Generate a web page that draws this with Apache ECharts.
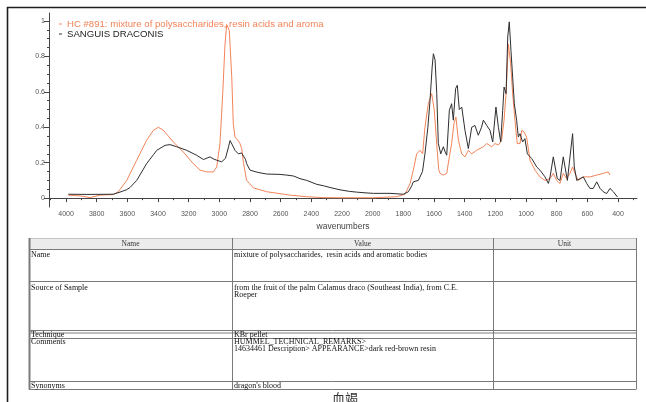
<!DOCTYPE html>
<html>
<head>
<meta charset="utf-8">
<script src="https://cdn.jsdelivr.net/npm/echarts@6/dist/echarts.min.js"></script>
<style>
  html, body { margin: 0; padding: 0; background: #ffffff; }
  #chart { width: 646px; height: 402px; }
</style>
</head>
<body>
<div id="chart"></div>
<script>
// ---- spectrum data (wavenumber in cm-1, absorbance) ----
const refName = 'HC #891: mixture of polysaccharides, resin acids and aroma';
const refColor = '#f3845a';
const refWn = [3985, 3900, 3843, 3778, 3691, 3659, 3604, 3539, 3474, 3430, 3398, 3365, 3300, 3235, 3170, 3126, 3082, 3039, 3017, 2996, 2978, 2963, 2952, 2935, 2919, 2909, 2898, 2880, 2865, 2854, 2843, 2822, 2804, 2778, 2691, 2539, 2430, 2322, 2213, 2000, 1843, 1789, 1756, 1735, 1713, 1691, 1674, 1659, 1637, 1615, 1598, 1582, 1569, 1561, 1539, 1517, 1500, 1485, 1470, 1457, 1441, 1419, 1398, 1376, 1354, 1322, 1278, 1256, 1224, 1202, 1180, 1159, 1143, 1130, 1115, 1100, 1087, 1072, 1057, 1039, 1028, 1013, 996, 974, 941, 909, 876, 843, 822, 800, 778, 757, 735, 713, 696, 680, 659, 626, 583, 539, 496, 463, 452];
const refAbs = [0.017, 0.012, 0.003, 0.017, 0.02, 0.036, 0.10, 0.214, 0.327, 0.383, 0.40, 0.383, 0.317, 0.26, 0.195, 0.158, 0.148, 0.148, 0.176, 0.308, 0.59, 0.87, 0.98, 0.946, 0.683, 0.42, 0.345, 0.327, 0.308, 0.28, 0.20, 0.10, 0.083, 0.058, 0.036, 0.017, 0.008, 0.003, 0.002, 0.002, 0.008, 0.022, 0.083, 0.158, 0.25, 0.27, 0.25, 0.40, 0.533, 0.59, 0.496, 0.30, 0.16, 0.14, 0.13, 0.14, 0.233, 0.308, 0.42, 0.458, 0.327, 0.25, 0.233, 0.27, 0.25, 0.27, 0.29, 0.308, 0.29, 0.308, 0.30, 0.327, 0.44, 0.59, 0.87, 0.76, 0.59, 0.44, 0.308, 0.308, 0.383, 0.374, 0.345, 0.214, 0.158, 0.12, 0.10, 0.11, 0.14, 0.10, 0.083, 0.14, 0.11, 0.14, 0.176, 0.14, 0.10, 0.12, 0.12, 0.13, 0.14, 0.148, 0.13];

const sampleName = 'SANGUIS DRACONIS';
const sampleColor = '#2e2e2e';
const sampleWn = [3985, 3850, 3693, 3648, 3604, 3583, 3539, 3474, 3430, 3408, 3354, 3322, 3278, 3213, 3148, 3104, 3075, 3061, 3040, 3017, 2985, 2960, 2940, 2930, 2915, 2898, 2876, 2855, 2843, 2830, 2822, 2800, 2760, 2735, 2691, 2604, 2560, 2517, 2474, 2430, 2365, 2322, 2278, 2213, 2150, 2104, 2050, 1996, 1887, 1800, 1767, 1745, 1735, 1702, 1691, 1675, 1659, 1640, 1626, 1612, 1604, 1593, 1582, 1572, 1556, 1539, 1527, 1517, 1500, 1485, 1474, 1459, 1448, 1435, 1419, 1398, 1376, 1354, 1333, 1311, 1290, 1278, 1256, 1235, 1217, 1196, 1180, 1165, 1152, 1143, 1130, 1119, 1109, 1098, 1087, 1076, 1061, 1050, 1039, 1022, 1007, 991, 963, 930, 909, 876, 854, 843, 822, 811, 796, 778, 757, 746, 730, 713, 696, 685, 669, 648, 626, 604, 583, 561, 539, 517, 496, 474, 452, 430, 404];
const sampleAbs = [0.022, 0.021, 0.022, 0.034, 0.048, 0.06, 0.10, 0.195, 0.245, 0.27, 0.298, 0.302, 0.29, 0.27, 0.242, 0.218, 0.228, 0.233, 0.222, 0.214, 0.205, 0.225, 0.29, 0.325, 0.30, 0.27, 0.25, 0.255, 0.265, 0.22, 0.195, 0.158, 0.148, 0.143, 0.136, 0.134, 0.13, 0.125, 0.11, 0.10, 0.078, 0.07, 0.06, 0.047, 0.038, 0.034, 0.03, 0.027, 0.027, 0.022, 0.036, 0.07, 0.092, 0.10, 0.10, 0.15, 0.25, 0.40, 0.55, 0.74, 0.815, 0.78, 0.59, 0.31, 0.25, 0.29, 0.26, 0.242, 0.496, 0.533, 0.44, 0.618, 0.637, 0.50, 0.514, 0.383, 0.28, 0.40, 0.41, 0.355, 0.40, 0.44, 0.41, 0.383, 0.317, 0.514, 0.40, 0.317, 0.496, 0.627, 0.59, 0.91, 0.995, 0.834, 0.683, 0.533, 0.44, 0.345, 0.364, 0.317, 0.336, 0.25, 0.224, 0.176, 0.158, 0.12, 0.083, 0.12, 0.233, 0.224, 0.111, 0.10, 0.233, 0.224, 0.10, 0.233, 0.364, 0.176, 0.10, 0.11, 0.12, 0.083, 0.055, 0.055, 0.092, 0.055, 0.036, 0.026, 0.055, 0.036, 0.007];

// ---- axis ticks ----
const xMajorTicks = [4000, 3800, 3600, 3400, 3200, 3000, 2800, 2600, 2400, 2200, 2000, 1800, 1600, 1400, 1200, 1000, 800, 600, 400];
const xMinorTicks = [4100, 3900, 3700, 3500, 3300, 3100, 2900, 2700, 2500, 2300, 2100, 1900, 1700, 1500, 1300, 1100, 900, 700, 500, 300];
const yMajorTicks = [0, 0.2, 0.4, 0.6, 0.8, 1];
const yMinorTicks = [0.05, 0.1, 0.15, 0.25, 0.3, 0.35, 0.45, 0.5, 0.55, 0.65, 0.7, 0.75, 0.85, 0.9, 0.95];

// ---- sample information table ----
const tableHeader = ['Name', 'Value', 'Unit'];
const tableRows = [
  { label: 'Name', value: ['mixture of polysaccharides,  resin acids and aromatic bodies'] },
  { label: 'Source of Sample', value: ['from the fruit of the palm Calamus draco (Southeast India), from C.E.', 'Roeper'] },
  { label: 'Technique', value: ['KBr pellet'] },
  { label: 'Comments', value: ['HUMMEL_TECHNICAL_REMARKS>', '14634461 Description> APPEARANCE>dark red-brown resin'] },
  { label: 'Synonyms', value: ["dragon's blood"] }
];
const caption = '血竭';

const zip = (xs, ys) => xs.map((x, i) => [x, ys[i]]);

// table layout
const colX = [29, 232, 493, 636];
const headerTop = 238, headerBottom = 249;
const rowTops = [249, 281, 330, 338, 381];
const rowTextY = [250.5, 283.5, 330.5, 337.5, 381.5];
const tableBottom = 389.5;
const lineColor = '#7a7a7a';
const cellFont = '8px "Liberation Serif"';

const graphics = [];
// page frame
graphics.push({ type: 'line', shape: { x1: 7, y1: 7.5, x2: 646, y2: 7.5 }, style: { stroke: '#1e1e1e', lineWidth: 1.6 } });
graphics.push({ type: 'line', shape: { x1: 7.5, y1: 7, x2: 7.5, y2: 402 }, style: { stroke: '#1e1e1e', lineWidth: 1.6 } });
// header band
graphics.push({ type: 'rect', shape: { x: colX[0], y: headerTop, width: colX[3] - colX[0], height: headerBottom - headerTop }, style: { fill: '#ececec' } });
graphics.push({ type: 'line', shape: { x1: colX[0], y1: headerTop + 0.5, x2: colX[3], y2: headerTop + 0.5 }, style: { stroke: '#c4c4c4', lineWidth: 1 } });
tableHeader.forEach((h, i) => {
  graphics.push({ type: 'text', style: { text: h, x: (colX[i] + colX[i + 1]) / 2, y: (headerTop + headerBottom) / 2 + 0.5, textAlign: 'center', textVerticalAlign: 'middle', font: '7.5px "Liberation Serif"', fill: '#333' } });
});
// horizontal rules
rowTops.concat([332.5]).forEach(y => {
  graphics.push({ type: 'line', shape: { x1: colX[0], y1: y + 0.5, x2: colX[3], y2: y + 0.5 }, style: { stroke: lineColor, lineWidth: 1 } });
});
graphics.push({ type: 'line', shape: { x1: colX[0], y1: tableBottom, x2: colX[3], y2: tableBottom }, style: { stroke: lineColor, lineWidth: 1 } });
// vertical rules
colX.forEach((x, i) => {
  graphics.push({ type: 'line', shape: { x1: x + 0.5, y1: headerTop, x2: x + 0.5, y2: tableBottom }, style: { stroke: lineColor, lineWidth: i === 0 ? 2 : 1 } });
});
// cell text
tableRows.forEach((row, r) => {
  graphics.push({ type: 'text', style: { text: row.label, x: colX[0] + 2, y: rowTextY[r], textVerticalAlign: 'top', font: cellFont, fill: '#111' } });
  row.value.forEach((line, k) => {
    graphics.push({ type: 'text', style: { text: line, x: colX[1] + 2, y: rowTextY[r] + k * 7.5, textVerticalAlign: 'top', font: cellFont, fill: '#111' } });
  });
});
// caption
graphics.push({ type: 'text', style: { text: caption, x: 345, y: 398, textAlign: 'center', textVerticalAlign: 'middle', font: '13px "Noto Sans CJK SC"', fill: '#333' } });

const chart = echarts.init(document.getElementById('chart'), null, { renderer: 'canvas' });
chart.setOption({
  animation: false,
  backgroundColor: '#ffffff',
  grid: { left: 49, right: 9, top: 13, bottom: 195 },
  legend: {
    orient: 'vertical',
    left: 59,
    top: 19,
    padding: 0,
    icon: 'rect',
    itemWidth: 3,
    itemHeight: 1,
    itemGap: 0,
    textStyle: { fontSize: 9.6, fontFamily: 'Liberation Sans' },
    data: [
      { name: refName, textStyle: { color: refColor } },
      { name: sampleName, textStyle: { color: '#222' } }
    ]
  },
  xAxis: [
    {
      type: 'value', inverse: true, min: 276, max: 4111,
      name: 'wavenumbers', nameLocation: 'middle', nameGap: 15,
      nameTextStyle: { fontSize: 8.5, color: '#444', fontFamily: 'Liberation Sans' },
      axisLine: { lineStyle: { color: '#444', width: 1 } },
      axisTick: { customValues: xMajorTicks, length: 4, lineStyle: { color: '#444' } },
      axisLabel: { customValues: xMajorTicks, fontSize: 7, color: '#555', margin: 4, fontFamily: 'Liberation Sans', formatter: v => String(v) },
      splitLine: { show: false }
    },
    {
      type: 'value', inverse: true, min: 276, max: 4111, position: 'bottom',
      axisLine: { show: false },
      axisTick: { customValues: xMinorTicks, length: 2, lineStyle: { color: '#444' } },
      axisLabel: { show: false },
      splitLine: { show: false }
    }
  ],
  yAxis: [
    {
      type: 'value', min: -0.05, max: 1.045,
      axisLine: { show: true, lineStyle: { color: '#444', width: 1 } },
      axisTick: { show: true, customValues: yMajorTicks, length: 5, lineStyle: { color: '#444' } },
      axisLabel: { customValues: yMajorTicks, fontSize: 7, color: '#555', margin: 4, fontFamily: 'Liberation Sans', formatter: v => String(v) },
      splitLine: { show: false }
    },
    {
      type: 'value', min: -0.05, max: 1.045, position: 'left',
      axisLine: { show: false },
      axisTick: { show: true, customValues: yMinorTicks, length: 2, lineStyle: { color: '#444' } },
      axisLabel: { show: false },
      splitLine: { show: false }
    }
  ],
  series: [
    {
      name: refName, type: 'line', xAxisIndex: 0, yAxisIndex: 0,
      data: zip(refWn, refAbs), showSymbol: false, symbol: 'none',
      lineStyle: { color: refColor, width: 1 }, itemStyle: { color: refColor }, z: 2
    },
    {
      name: sampleName, type: 'line', xAxisIndex: 0, yAxisIndex: 0,
      data: zip(sampleWn, sampleAbs), showSymbol: false, symbol: 'none',
      lineStyle: { color: sampleColor, width: 1 }, itemStyle: { color: sampleColor }, z: 3
    }
  ],
  graphic: { elements: graphics }
});
</script>
</body>
</html>
